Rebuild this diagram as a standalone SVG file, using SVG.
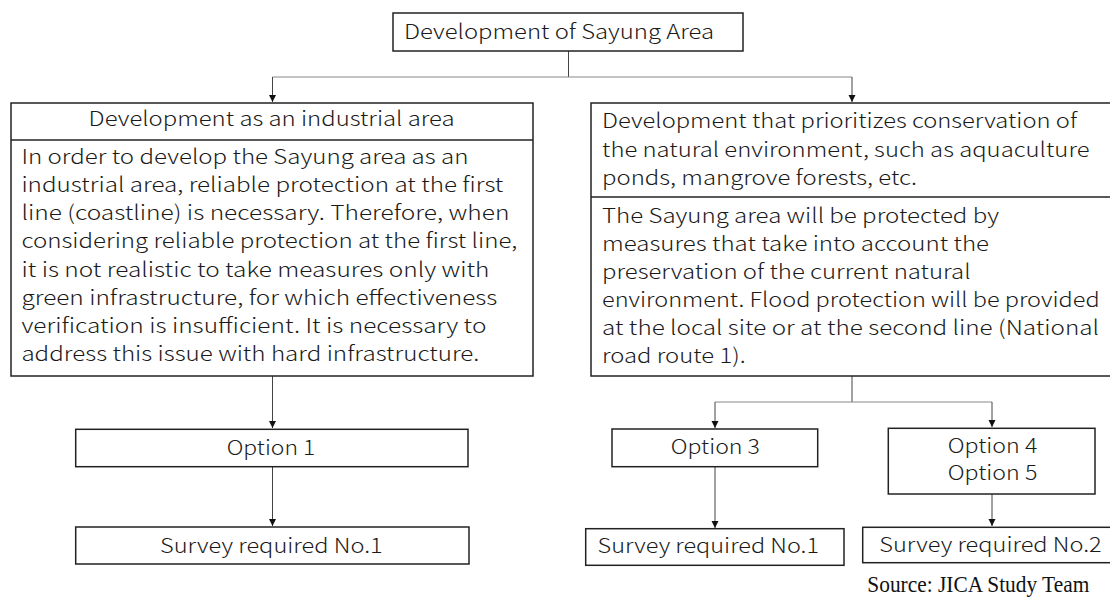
<svg xmlns="http://www.w3.org/2000/svg" width="1110" height="599" viewBox="0 0 1110 599">
<defs>
<style>
.box{fill:#fff;stroke:#222;stroke-width:1.5}
.div{stroke:#222;stroke-width:1.5}
.t{font-family:"Noto Sans CJK JP","Noto Sans",sans-serif;font-size:20.5px;font-weight:300;fill:#1a1a1a}
.c{fill:none;stroke:#444;stroke-width:1}
.g{fill:none;stroke:#888;stroke-width:1}
.src{font-family:"Liberation Serif","Times New Roman",serif;font-size:23px;fill:#111}
</style>
<marker id="ah" markerUnits="userSpaceOnUse" markerWidth="8" markerHeight="8" refX="7" refY="4" orient="auto">
<path d="M0,0.5 L7,4 L0,7.5 Z" fill="#111"/>
</marker>
</defs>
<rect width="1110" height="599" fill="#fff"/>

<g id="connectors">
<path class="c" d="M568.5,51 V77"/>
<path class="g" d="M272.5,77 H852"/>
<path class="c" d="M272.5,77 V102" marker-end="url(#ah)"/>
<path class="c" d="M852,77 V102" marker-end="url(#ah)"/>
<path class="c" d="M272.5,376 V428" marker-end="url(#ah)"/>
<path class="c" d="M272.5,467 V526" marker-end="url(#ah)"/>
<path class="c" d="M852,376 V402"/>
<path class="g" d="M715,402 H992"/>
<path class="c" d="M715,402 V428" marker-end="url(#ah)"/>
<path class="c" d="M992,402 V427" marker-end="url(#ah)"/>
<path class="c" d="M715,467 V528" marker-end="url(#ah)"/>
<path class="c" d="M992,494 V526" marker-end="url(#ah)"/>
</g>

<g id="node-top">
<rect class="box" x="393" y="13" width="350" height="38"/>
<text class="t" x="404" y="39" textLength="310" lengthAdjust="spacingAndGlyphs">Development of Sayung Area</text>
</g>

<g id="node-industrial">
<rect class="box" x="11" y="103" width="522" height="273"/>
<line class="div" x1="11" y1="140" x2="533" y2="140"/>
<text class="t" x="88.6" y="126" textLength="366" lengthAdjust="spacingAndGlyphs">Development as an industrial area</text>
<text class="t" x="21.4" y="164" textLength="447" lengthAdjust="spacingAndGlyphs">In order to develop the Sayung area as an</text>
<text class="t" x="21.4" y="192" textLength="482" lengthAdjust="spacingAndGlyphs">industrial area, reliable protection at the first</text>
<text class="t" x="21.4" y="220" textLength="488" lengthAdjust="spacingAndGlyphs">line (coastline) is necessary. Therefore, when</text>
<text class="t" x="21.4" y="248" textLength="496" lengthAdjust="spacingAndGlyphs">considering reliable protection at the first line,</text>
<text class="t" x="21.4" y="277" textLength="468" lengthAdjust="spacingAndGlyphs">it is not realistic to take measures only with</text>
<text class="t" x="21.4" y="305" textLength="476" lengthAdjust="spacingAndGlyphs">green infrastructure, for which effectiveness</text>
<text class="t" x="21.4" y="333" textLength="465" lengthAdjust="spacingAndGlyphs">verification is insufficient. It is necessary to</text>
<text class="t" x="21.4" y="361" textLength="458" lengthAdjust="spacingAndGlyphs">address this issue with hard infrastructure.</text>
</g>

<g id="node-conservation">
<rect class="box" x="591" y="103" width="522" height="273"/>
<line class="div" x1="591" y1="197" x2="1113" y2="197"/>
<text class="t" x="602" y="128" textLength="475" lengthAdjust="spacingAndGlyphs">Development that prioritizes conservation of</text>
<text class="t" x="602" y="156.5" textLength="487.5" lengthAdjust="spacingAndGlyphs">the natural environment, such as aquaculture</text>
<text class="t" x="602" y="185" textLength="315" lengthAdjust="spacingAndGlyphs">ponds, mangrove forests, etc.</text>
<text class="t" x="602" y="222.7" textLength="397" lengthAdjust="spacingAndGlyphs">The Sayung area will be protected by</text>
<text class="t" x="602" y="250.7" textLength="387" lengthAdjust="spacingAndGlyphs">measures that take into account the</text>
<text class="t" x="602" y="278.7" textLength="368.5" lengthAdjust="spacingAndGlyphs">preservation of the current natural</text>
<text class="t" x="602" y="306.7" textLength="497.6" lengthAdjust="spacingAndGlyphs">environment. Flood protection will be provided</text>
<text class="t" x="602" y="334.7" textLength="497" lengthAdjust="spacingAndGlyphs">at the local site or at the second line (National</text>
<text class="t" x="602" y="362.7" textLength="143.6" lengthAdjust="spacingAndGlyphs">road route 1).</text>
</g>

<g id="node-option1">
<rect class="box" x="75.7" y="429.3" width="392.3" height="37.4"/>
<text class="t" x="226.7" y="455" textLength="88.6" lengthAdjust="spacingAndGlyphs">Option 1</text>
</g>

<g id="node-survey1-left">
<rect class="box" x="75.7" y="527" width="393.3" height="37"/>
<text class="t" x="160" y="552.7" textLength="222.7" lengthAdjust="spacingAndGlyphs">Survey required No.1</text>
</g>

<g id="node-option3">
<rect class="box" x="612" y="429" width="205.7" height="37.7"/>
<text class="t" x="670.7" y="454.3" textLength="89.3" lengthAdjust="spacingAndGlyphs">Option 3</text>
</g>

<g id="node-survey1-mid">
<rect class="box" x="585.7" y="528.7" width="258.3" height="36.6"/>
<text class="t" x="597.6" y="553" textLength="221.4" lengthAdjust="spacingAndGlyphs">Survey required No.1</text>
</g>

<g id="node-option45">
<rect class="box" x="888.3" y="428.3" width="206.7" height="65.7"/>
<text class="t" x="947.7" y="452.7" textLength="89.6" lengthAdjust="spacingAndGlyphs">Option 4</text>
<text class="t" x="947.7" y="480" textLength="89.6" lengthAdjust="spacingAndGlyphs">Option 5</text>
</g>

<g id="node-survey2">
<rect class="box" x="862.7" y="527.3" width="250" height="35.4"/>
<text class="t" x="879.3" y="551.7" textLength="222.4" lengthAdjust="spacingAndGlyphs">Survey required No.2</text>
</g>

<text class="src" x="867.3" y="592" textLength="222" lengthAdjust="spacingAndGlyphs">Source: JICA Study Team</text>
</svg>
